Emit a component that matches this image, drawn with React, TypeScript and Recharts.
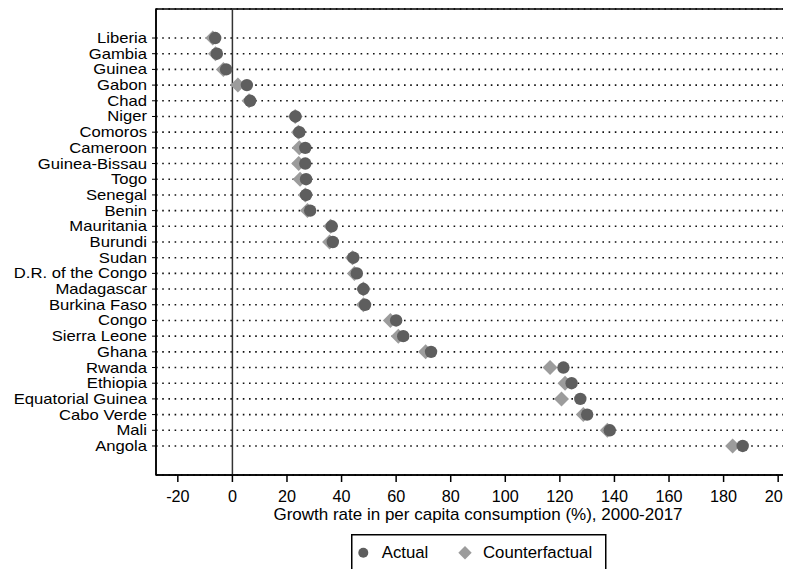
import {
  ScatterChart, Scatter, XAxis, YAxis, CartesianGrid, ReferenceLine, ReferenceArea, Label,
} from 'recharts';

const COUNTRIES = [
  'Liberia', 'Gambia', 'Guinea', 'Gabon', 'Chad', 'Niger', 'Comoros', 'Cameroon',
  'Guinea-Bissau', 'Togo', 'Senegal', 'Benin', 'Mauritania', 'Burundi', 'Sudan',
  'D.R. of the Congo', 'Madagascar', 'Burkina Faso', 'Congo', 'Sierra Leone', 'Ghana',
  'Rwanda', 'Ethiopia', 'Equatorial Guinea', 'Cabo Verde', 'Mali', 'Angola',
];
const ACTUAL = [
  -6.3, -5.7, -2.3, 5.3, 6.5, 23.1, 24.5, 26.7, 26.7, 27.0, 27.0, 28.5, 36.4, 36.8, 44.3,
  45.6, 48.0, 48.6, 60.0, 62.6, 72.8, 121.3, 124.3, 127.5, 130.0, 138.3, 187.0,
];
const COUNTERFACTUAL = [
  -7.2, -6.2, -3.3, 2.0, 6.1, 23.0, 24.2, 24.5, 24.3, 24.8, 26.7, 27.5, 36.0, 35.6, 44.0,
  44.7, 48.0, 48.0, 57.9, 60.8, 70.8, 116.4, 121.9, 120.6, 128.6, 137.4, 183.3,
];
const X_TICKS = [-20, 0, 20, 40, 60, 80, 100, 120, 140, 160, 180, 200];
const X_TITLE = 'Growth rate in per capita consumption (%), 2000-2017';

const FONT = '"Liberation Sans", Arial, sans-serif';
const DARK = '#5e5e5e';
const LIGHT = '#9c9c9c';
const X_DOMAIN: [number, number] = [-28, 208];
const Y_DOMAIN: [number, number] = [-1.85, COUNTRIES.length - 1 + 1.85];

const actualPts = COUNTRIES.map((_, i) => ({ x: ACTUAL[i], y: i }));
const counterPts = COUNTRIES.map((_, i) => ({ x: COUNTERFACTUAL[i], y: i }));
const yTicks = COUNTRIES.map((_, i) => i);

function Dot(props: { cx?: number; cy?: number }) {
  const { cx = 0, cy = 0 } = props;
  return <circle cx={cx} cy={cy} r={6.2} fill={DARK} />;
}

function Diamond(props: { cx?: number; cy?: number }) {
  const { cx = 0, cy = 0 } = props;
  const h = 7.5;
  return (
    <polygon
      points={`${cx},${cy - h} ${cx + h},${cy} ${cx},${cy + h} ${cx - h},${cy}`}
      fill={LIGHT}
    />
  );
}

// country names: the original's glyphs are wider than tall, so stretch a bit sideways
function CountryTick(props: { x?: number; y?: number; payload?: { value: number } }) {
  const { x = 0, y = 0, payload } = props;
  const name = payload ? COUNTRIES[payload.value] ?? '' : '';
  return (
    <text
      transform={`translate(${x},${y + 5}) scale(1.19,1)`}
      textAnchor="end"
      fontSize={14}
      fontFamily={FONT}
      fill="#000"
    >
      {name}
    </text>
  );
}

function AxisTitle(props: { viewBox?: { x?: number; y?: number; width?: number } }) {
  const vb = props.viewBox || {};
  const x = (vb.x ?? 148) + (vb.width ?? 644) / 2;
  const y = (vb.y ?? 467) + 45;
  return (
    <text x={x} y={y} textAnchor="middle" fontSize={17} fontFamily={FONT} fill="#000">
      {X_TITLE}
    </text>
  );
}

export default function App() {
  return (
    <div style={{ position: 'relative', width: 783, height: 561, overflow: 'hidden', background: '#fff' }}>
      <ScatterChart
        width={830}
        height={600}
        margin={{ top: 1, right: 38, left: 0, bottom: 73 }}
      >
        <CartesianGrid
          horizontal
          vertical={false}
          stroke="#111"
          strokeWidth={1.6}
          strokeDasharray="1.6 4.6"
        />
        <XAxis
          type="number"
          dataKey="x"
          domain={X_DOMAIN}
          allowDataOverflow
          ticks={X_TICKS}
          interval={0}
          height={60}
          tickSize={7}
          tickMargin={8}
          axisLine={{ stroke: '#000', strokeWidth: 1.5 }}
          tickLine={{ stroke: '#000', strokeWidth: 1.5 }}
          tick={{ fontSize: 16.2, fontFamily: FONT, fill: '#000' }}
        >
          <Label content={<AxisTitle />} />
        </XAxis>
        <YAxis
          type="number"
          dataKey="y"
          domain={Y_DOMAIN}
          allowDataOverflow
          reversed
          ticks={yTicks}
          interval={0}
          width={148}
          tickSize={4}
          tickMargin={5}
          axisLine={{ stroke: '#000', strokeWidth: 1.5 }}
          tickLine={{ stroke: '#000', strokeWidth: 1 }}
          tick={<CountryTick />}
        />
        <ReferenceArea
          x1={X_DOMAIN[0]} x2={X_DOMAIN[1]}
          y1={Y_DOMAIN[0]} y2={Y_DOMAIN[1]}
          fill="none"
          stroke="#000"
          strokeWidth={1.5}
        />
        <ReferenceLine x={0} stroke="#333" strokeWidth={1.5} />
        <Scatter
          name="Counterfactual"
          data={counterPts}
          shape={<Diamond />}
          isAnimationActive={false}
        />
        <Scatter
          name="Actual"
          data={actualPts}
          shape={<Dot />}
          isAnimationActive={false}
        />
      </ScatterChart>

      {/* legend box, partly cut by the bottom edge like the original */}
      <svg
        width={258}
        height={42}
        style={{ position: 'absolute', left: 343, top: 526 }}
      >
        <rect x={0.75} y={0.75} width={254} height={40} fill="#fff" stroke="#000" strokeWidth={1.5} />
        <circle cx={12.3} cy={18.7} r={5} fill={DARK} />
        <text x={30.7} y={24.3} fontSize={16.8} fontFamily={FONT} fill="#000">Actual</text>
        <polygon points="114,12 120.7,18.7 114,25.4 107.3,18.7" fill={LIGHT} />
        <text x={132} y={24.3} fontSize={16.8} fontFamily={FONT} fill="#000">Counterfactual</text>
      </svg>
    </div>
  );
}
